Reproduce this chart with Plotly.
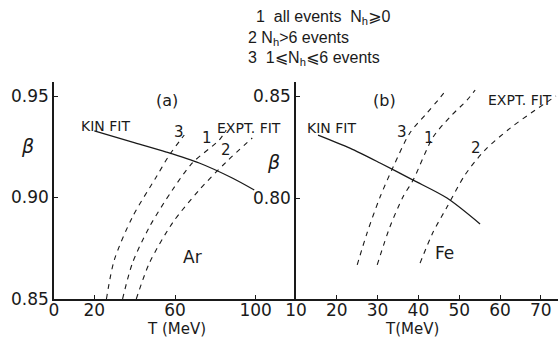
import plotly.graph_objects as go

# ---------------- data ----------------
# Panel (a) Ar
a_kin_T = [20.0, 38.9, 55.7, 72.0, 88.4, 99.3]
a_kin_b = [0.9328, 0.9273, 0.9224, 0.9170, 0.9096, 0.9037]
a_c3_T = [26.0, 29.9, 38.9, 50.7, 57.2, 64.6]
a_c3_b = [0.850, 0.8692, 0.8904, 0.9101, 0.9209, 0.9308]
a_c1_T = [34.0, 38.9, 47.3, 58.7, 68.6, 81.9, 85.4]
a_c1_b = [0.850, 0.8677, 0.8855, 0.9037, 0.9170, 0.9283, 0.9333]
a_c2_T = [40.8, 47.3, 58.7, 72.0, 85.4, 98.3]
a_c2_b = [0.850, 0.8677, 0.8874, 0.9037, 0.9175, 0.9293]

# Panel (b) Fe
b_kin_T = [15.4, 23.2, 30.6, 38.7, 47.0, 55.1]
b_kin_b = [0.8309, 0.8245, 0.8172, 0.8088, 0.8000, 0.7873]
b_c3_T = [25.0, 27.4, 30.6, 33.8, 37.9, 42.1, 44.8, 46.8]
b_c3_b = [0.7672, 0.7828, 0.8005, 0.8152, 0.8319, 0.8417, 0.8480, 0.8529]
b_c1_T = [29.9, 33.0, 36.2, 38.7, 43.6, 47.7, 51.9, 53.9]
b_c1_b = [0.7672, 0.7858, 0.8005, 0.8088, 0.8299, 0.8397, 0.8480, 0.8529]
b_c2_T = [40.4, 43.6, 47.0, 51.4, 56.3, 62.5, 68.6, 73.7]
b_c2_b = [0.7681, 0.7833, 0.7956, 0.8113, 0.8235, 0.8343, 0.8431, 0.8500]

a_xticks = [0, 20, 60, 100]
a_yticks = [0.85, 0.90, 0.95]
a_yticktext = ["0.85", "0.90", "0.95"]
b_xticks = [10, 20, 30, 40, 50, 60, 70]
b_yticks = [0.80, 0.85]
b_yticktext = ["0.80", "0.85"]

legend_lines = ["1  all events  N<sub>h</sub>⩾0",
                "2 N<sub>h</sub>>6 events",
                "3  1⩽N<sub>h</sub>⩽6 events"]

# ---------------- figure ----------------
INK = "#1a1a1a"
FONT = "DejaVu Sans"
KEYFONT = "Liberation Sans, DejaVu Sans"
W, H = 559, 339
ML, MR, MT, MB = 54, 1, 82, 40
PW = W - ML - MR
PH = H - MT - MB
split = (296 - ML) / PW

fig = go.Figure()

def solid(x, y, xa, ya):
    fig.add_trace(go.Scatter(x=x, y=y, mode="lines", xaxis=xa, yaxis=ya,
                             line=dict(color=INK, width=1.3, shape="spline", smoothing=0.8),
                             showlegend=False, hoverinfo="skip"))

def dashed(x, y, xa, ya):
    fig.add_trace(go.Scatter(x=x, y=y, mode="lines", xaxis=xa, yaxis=ya,
                             line=dict(color=INK, width=1.1, shape="spline", smoothing=0.8,
                                       dash="5px,5px"),
                             showlegend=False, hoverinfo="skip"))

solid(a_kin_T, a_kin_b, "x", "y")
dashed(a_c3_T, a_c3_b, "x", "y")
dashed(a_c1_T, a_c1_b, "x", "y")
dashed(a_c2_T, a_c2_b, "x", "y")
solid(b_kin_T, b_kin_b, "x2", "y2")
dashed(b_c3_T, b_c3_b, "x2", "y2")
dashed(b_c1_T, b_c1_b, "x2", "y2")
dashed(b_c2_T, b_c2_b, "x2", "y2")

axis_common = dict(showgrid=False, zeroline=False, showline=True, linecolor=INK,
                   linewidth=1.5, ticks="inside", ticklen=4, tickcolor=INK,
                   tickfont=dict(family=FONT, size=17, color=INK))
xaxis_extra = dict(ticklabelstandoff=-5)

fig.update_layout(
    width=W, height=H,
    margin=dict(l=ML, r=MR, t=MT, b=MB),
    paper_bgcolor="white", plot_bgcolor="white",
    showlegend=False,
    xaxis=dict(domain=[0, split], range=[0, 120], tickvals=a_xticks,
               anchor="y", **axis_common, **xaxis_extra),
    yaxis=dict(domain=[0, 1], range=[0.85, 0.9569], tickvals=a_yticks,
               ticktext=a_yticktext, anchor="x", **axis_common),
    xaxis2=dict(domain=[split, 1], range=[10, 74.2], tickvals=b_xticks,
                anchor="y2", **axis_common, **xaxis_extra),
    yaxis2=dict(domain=[0, 1], range=[0.7505, 0.8569], tickvals=b_yticks,
                ticktext=b_yticktext, anchor="x2", **axis_common),
)

def px2paper(px, py):
    return (px - ML) / PW, (H - MB - py) / PH

def note(text, x, y, xref, yref, size=14, xanchor="center", family=FONT):
    fig.add_annotation(text=text, x=x, y=y, xref=xref, yref=yref,
                       showarrow=False, xanchor=xanchor, yanchor="middle",
                       font=dict(family=family, size=size, color=INK))

# panel (a) labels
note("KIN FIT", 25.5, 0.9352, "x", "y", 14)
note("3", 62.1, 0.9323, "x", "y", 15)
note("1", 76.0, 0.9293, "x", "y", 15)
note("EXPT. FIT", 96.8, 0.9342, "x", "y", 14)
note("2", 85.4, 0.9234, "x", "y", 15)
note("Ar", 68.6, 0.8707, "x", "y", 17)
note("(a)", 56.2, 0.948, "x", "y", 16)
# panel (b) labels
note("KIN FIT", 18.8, 0.8343, "x2", "y2", 14)
note("3", 36.0, 0.8324, "x2", "y2", 15)
note("1", 42.6, 0.8294, "x2", "y2", 15)
note("2", 54.0, 0.8245, "x2", "y2", 15)
note("Fe", 46.5, 0.7730, "x2", "y2", 17)
note("(b)", 31.8, 0.8480, "x2", "y2", 16)
note("EXPT. FIT", 64.9, 0.8480, "x2", "y2", 14)

# axis titles
x, y = px2paper(176, 329)
note("T (MeV)", x, y, "paper", "paper", 15)
x, y = px2paper(412, 329)
note("T(MeV)", x, y, "paper", "paper", 15)
x, y = px2paper(27, 146)
note("<i>β</i>", x, y, "paper", "paper", 19)
x, y = px2paper(273, 162)
note("<i>β</i>", x, y, "paper", "paper", 19)

# top key
for txt, (lx, ly) in zip(legend_lines, [(254, 17), (246, 38), (246, 58)]):
    x, y = px2paper(lx, ly)
    note(txt, x, y, "paper", "paper", 16, xanchor="left", family=KEYFONT)

fig.write_html("out.html")
